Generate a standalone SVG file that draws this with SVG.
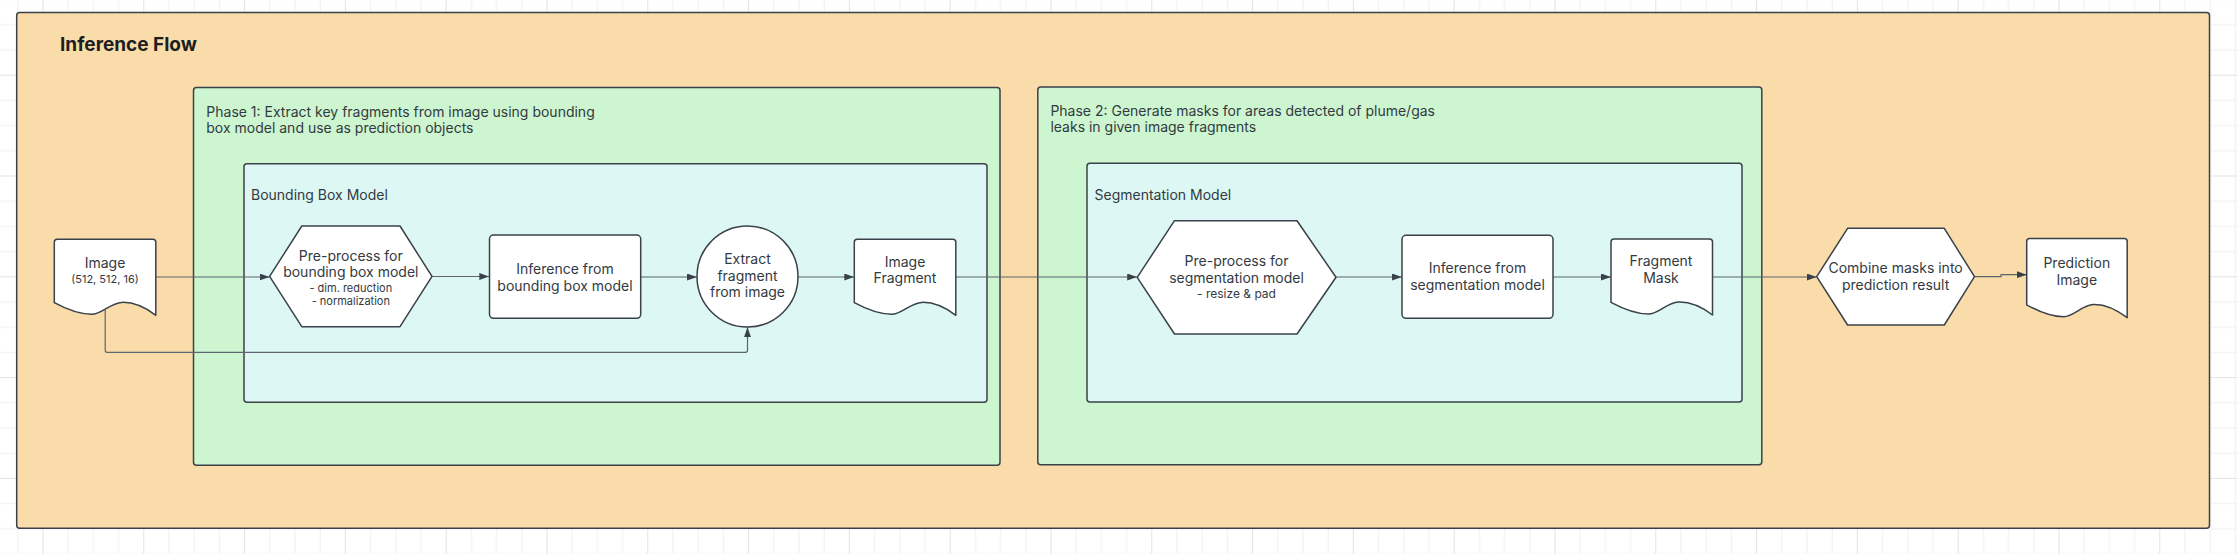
<svg xmlns="http://www.w3.org/2000/svg" width="2238" height="554" viewBox="0 0 2238 554">
<style>
.t{font-family:Inter,"Liberation Sans",Arial,sans-serif;font-size:14px;fill:#333a42}
.c{text-anchor:middle}
.s{font-size:11px}
.title{font-family:Inter,"Liberation Sans",Arial,sans-serif;font-size:19px;font-weight:700;fill:#1e1e1e}
.cont{stroke:#3a414a;stroke-width:1.5}
.node{fill:#ffffff;stroke:#3a414a;stroke-width:1.5;stroke-linejoin:round}
.conn{fill:none;stroke:#5c6570;stroke-width:1.2}
</style>
<defs>
<pattern id="grid" patternUnits="userSpaceOnUse" x="42.5" y="74.7" width="100.8" height="100.8">
<rect x="0" y="25.2" width="100.8" height="1" fill="#f0f0f0"/>
<rect x="0" y="50.4" width="100.8" height="1" fill="#f0f0f0"/>
<rect x="0" y="75.6" width="100.8" height="1" fill="#f0f0f0"/>
<rect x="25.2" y="0" width="1" height="100.8" fill="#f0f0f0"/>
<rect x="50.4" y="0" width="1" height="100.8" fill="#f0f0f0"/>
<rect x="75.6" y="0" width="1" height="100.8" fill="#f0f0f0"/>
<rect x="0" y="0" width="100.8" height="1" fill="#e3e3e3"/>
<rect x="0" y="0" width="1" height="100.8" fill="#e3e3e3"/>
</pattern>
<marker id="arr" markerUnits="userSpaceOnUse" markerWidth="10" markerHeight="7" refX="10" refY="3.5" orient="auto">
<path d="M0,0 L10,3.5 L0,7 Z" fill="#3a414a"/>
</marker>
<path id="doc" d="M0,3 Q0,0 3,0 L98.5,0 Q101.5,0 101.5,3 L101.5,76 C90,67.3 78.2,62.7 67.4,63.1 C55.8,63.5 47.7,75 37.4,75 C26,75 12,69.9 0,63.4 Z"/>
</defs>
<rect width="2238" height="554" fill="#ffffff"/>
<rect width="2238" height="554" fill="url(#grid)"/>

<g id="inference-flow">
<rect class="cont" x="16.7" y="12.5" width="2192.8" height="515.8" rx="3" fill="#f9dcaa"/>
<text class="title" x="60" y="51">Inference Flow</text>
</g>

<g id="phase1">
<rect class="cont" x="193.5" y="87.5" width="806.5" height="377.8" rx="3" fill="#cdf5cf"/>
<text class="t" x="206.3" y="116.5">Phase 1: Extract key fragments from image using bounding</text>
<text class="t" x="206.3" y="132.7">box model and use as prediction objects</text>
</g>

<g id="bounding-box-model">
<rect class="cont" x="244" y="163.8" width="743" height="238.5" rx="3" fill="#dcf7f4"/>
<text class="t" x="251" y="200">Bounding Box Model</text>
</g>

<g id="phase2">
<rect class="cont" x="1037.8" y="87" width="724" height="377.8" rx="3" fill="#cdf5cf"/>
<text class="t" x="1050.4" y="116.3">Phase 2: Generate masks for areas detected of plume/gas</text>
<text class="t" x="1050.4" y="132.3">leaks in given image fragments</text>
</g>

<g id="segmentation-model">
<rect class="cont" x="1087" y="163.3" width="655" height="238.7" rx="3" fill="#dcf7f4"/>
<text class="t" x="1094.5" y="199.5">Segmentation Model</text>
</g>

<g id="connectors">
<path class="conn" d="M155.8,277 L269.6,277" marker-end="url(#arr)"/>
<path class="conn" d="M432,276.5 L489.3,276.5" marker-end="url(#arr)"/>
<path class="conn" d="M640.7,277 L697,277" marker-end="url(#arr)"/>
<path class="conn" d="M798,277 L854.3,277" marker-end="url(#arr)"/>
<path class="conn" d="M956,277 L1137.2,277" marker-end="url(#arr)"/>
<path class="conn" d="M1336,277 L1402,277" marker-end="url(#arr)"/>
<path class="conn" d="M1553,277 L1611,277" marker-end="url(#arr)"/>
<path class="conn" d="M1711.6,277 L1816.7,277" marker-end="url(#arr)"/>
<path class="conn" d="M1974.5,276.7 L2001,276.7 L2001,274.7 L2026.7,274.7" marker-end="url(#arr)"/>
<path class="conn" d="M105.2,310 L105.2,350.3 Q105.2,352.3 107.2,352.3 L745.5,352.3 Q747.5,352.3 747.5,350.3 L747.5,327.2" marker-end="url(#arr)"/>
</g>

<g id="image">
<use href="#doc" class="node" transform="translate(54.3,239.3)"/>
<text class="t c" x="105" y="268.3">Image</text>
<text class="t c s" x="105" y="282.7">(512, 512, 16)</text>
</g>

<g id="preprocess-bbox">
<polygon class="node" points="269.6,276.4 301.8,226 400,226 432,276.4 400,326.7 301.8,326.7"/>
<text class="t c" x="350.8" y="261">Pre-process for</text>
<text class="t c" x="350.8" y="277.3">bounding box model</text>
<text class="t c s" x="350.8" y="291.7">- dim. reduction</text>
<text class="t c s" x="350.8" y="305">- normalization</text>
</g>

<g id="inference-bbox">
<rect class="node" x="489.5" y="235" width="151.2" height="83.3" rx="4"/>
<text class="t c" x="565" y="274">Inference from</text>
<text class="t c" x="565" y="290.7">bounding box model</text>
</g>

<g id="extract-fragment">
<circle class="node" cx="747.5" cy="276.5" r="50.5"/>
<text class="t c" x="747.5" y="264">Extract</text>
<text class="t c" x="747.5" y="281">fragment</text>
<text class="t c" x="747.5" y="297.3">from image</text>
</g>

<g id="image-fragment">
<use href="#doc" class="node" transform="translate(854.3,239.3)"/>
<text class="t c" x="905" y="266.7">Image</text>
<text class="t c" x="905" y="283.3">Fragment</text>
</g>

<g id="preprocess-seg">
<polygon class="node" points="1137.2,277.3 1174.5,220.7 1297,220.7 1336,277.3 1297,334 1174.5,334"/>
<text class="t c" x="1236.5" y="265.7">Pre-process for</text>
<text class="t c" x="1236.5" y="282.7">segmentation model</text>
<text class="t c" x="1236.5" y="298.3" style="font-size:12px">- resize &amp; pad</text>
</g>

<g id="inference-seg">
<rect class="node" x="1402" y="235.3" width="151" height="83" rx="4"/>
<text class="t c" x="1477.5" y="273.3">Inference from</text>
<text class="t c" x="1477.5" y="290">segmentation model</text>
</g>

<g id="fragment-mask">
<use href="#doc" class="node" transform="translate(1611,239)"/>
<text class="t c" x="1661" y="266">Fragment</text>
<text class="t c" x="1661" y="282.7">Mask</text>
</g>

<g id="combine-masks">
<polygon class="node" points="1816.7,276.7 1847.6,228.3 1944.3,228.3 1974.5,276.7 1944.3,325 1847.6,325"/>
<text class="t c" x="1895.6" y="273.3">Combine masks into</text>
<text class="t c" x="1895.6" y="290">prediction result</text>
</g>

<g id="prediction-image">
<path class="node" transform="translate(2026.7,238.5)" d="M0,3 Q0,0 3,0 L97.5,0 Q100.5,0 100.5,3 L100.5,79.2 C89,70.3 77.4,65.5 66.7,65.9 C55.3,66.3 47.2,78.2 37,78.2 C25.7,78.2 11.9,73 0,66.3 Z"/>
<text class="t c" x="2076.8" y="268.3">Prediction</text>
<text class="t c" x="2076.8" y="285">Image</text>
</g>
</svg>
